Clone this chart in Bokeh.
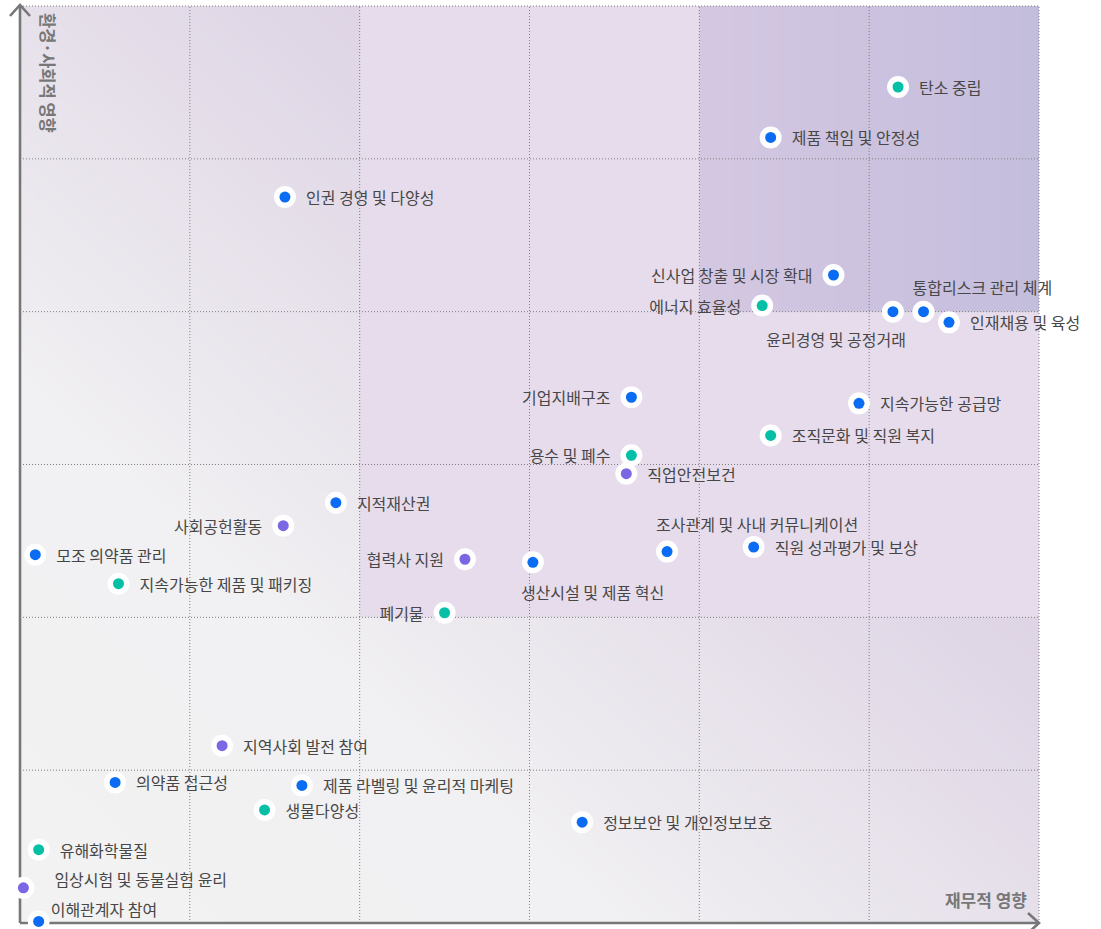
import numpy as np
from bokeh.plotting import figure
from bokeh.models import ColumnDataSource, Range1d
from bokeh.transform import factor_cmap
from bokeh.core.properties import value
from bokeh.embed import file_html
from bokeh.resources import INLINE

# ---------------- DATA ----------------
labels = [
    "탄소 중립", "제품 책임 및 안정성", "인권 경영 및 다양성", "신사업 창출 및 시장 확대",
    "에너지 효율성", "윤리경영 및 공정거래", "통합리스크 관리 체계", "인재채용 및 육성",
    "기업지배구조", "지속가능한 공급망", "조직문화 및 직원 복지", "용수 및 폐수",
    "직업안전보건", "조사관계 및 사내 커뮤니케이션", "직원 성과평가 및 보상", "생산시설 및 제품 혁신",
    "지적재산권", "사회공헌활동", "모조 의약품 관리", "협력사 지원",
    "지속가능한 제품 및 패키징", "폐기물", "지역사회 발전 참여", "의약품 접근성",
    "제품 라벨링 및 윤리적 마케팅", "생물다양성", "정보보안 및 개인정보보호", "유해화학물질",
    "임상시험 및 동물실험 윤리", "이해관계자 참여",
]
financial_impact = [
    5.17, 4.42, 1.56, 4.79,
    4.37, 5.14, 5.32, 5.47,
    3.60, 4.94, 4.42, 3.60,
    3.57, 3.81, 4.32, 3.02,
    1.86, 1.55, 0.09, 2.62,
    0.58, 2.50, 1.19, 0.56,
    1.66, 1.44, 3.31, 0.11,
    0.02, 0.11,
]
social_impact = [
    5.47, 5.14, 4.75, 4.24,
    4.04, 4.00, 4.00, 3.93,
    3.44, 3.40, 3.19, 3.06,
    2.94, 2.43, 2.46, 2.36,
    2.75, 2.60, 2.41, 2.38,
    2.22, 2.03, 1.16, 0.92,
    0.90, 0.74, 0.66, 0.48,
    0.23, 0.01,
]
group = [
    "환경", "경제·거버넌스", "경제·거버넌스", "경제·거버넌스",
    "환경", "경제·거버넌스", "경제·거버넌스", "경제·거버넌스",
    "경제·거버넌스", "경제·거버넌스", "환경", "환경",
    "사회", "경제·거버넌스", "경제·거버넌스", "경제·거버넌스",
    "경제·거버넌스", "사회", "경제·거버넌스", "사회",
    "환경", "환경", "사회", "경제·거버넌스",
    "경제·거버넌스", "환경", "경제·거버넌스", "환경",
    "사회", "경제·거버넌스",
]
groups = ["경제·거버넌스", "환경", "사회"]
grid_ticks = [1, 2, 3, 4, 5, 6]
axis_max = 6
x_title = "재무적 영향"
y_title = "환경·사회적 영향"

# ---------------- STYLE ----------------
group_colors = ["#0a6cf2", "#05bfa7", "#7b66e3"]
TEXT_COLOR = "#474747"
AXIS_COLOR = "#777777"
FONT = "Noto Sans CJK KR"

LEFT_LABELS = {"신사업 창출 및 시장 확대", "에너지 효율성", "기업지배구조", "용수 및 폐수",
               "사회공헌활동", "협력사 지원", "폐기물"}
SPECIAL = {
    "통합리스크 관리 체계": (-11, -25, "left"),
    "윤리경영 및 공정거래": (13, 27, "right"),
    "조사관계 및 사내 커뮤니케이션": (-11, -28, "left"),
    "생산시설 및 제품 혁신": (-12, 30, "left"),
    "임상시험 및 동물실험 윤리": (31, -9, "left"),
    "이해관계자 참여": (12, -12, "left"),
}
dx, dy, align = [], [], []
for lab in labels:
    if lab in SPECIAL:
        a, b, c = SPECIAL[lab]
    elif lab in LEFT_LABELS:
        a, b, c = -21, 0, "right"
    else:
        a, b, c = 21, 0, "left"
    dx.append(a); dy.append(b); align.append(c)

# geometry: axis origin at pixel (19, 922), top/right border at (1038, 5)
W, H = 1100, 929
SX = 1019 / 6.0
SY = 917 / 6.0
x_start = -19.5 / SX
x_end = x_start + W / SX
y_end = 6.0 + 5.5 / SY
y_start = y_end - H / SY

def dxp(px):
    return px / SX

def dyp(px):
    return px / SY

p = figure(width=W, height=H, output_backend="svg", toolbar_location=None,
           x_axis_type=None, y_axis_type=None,
           x_range=Range1d(x_start, x_end), y_range=Range1d(y_start, y_end),
           min_border=0, min_border_left=0, min_border_right=0,
           min_border_top=0, min_border_bottom=0,
           outline_line_color=None, background_fill_color="white",
           border_fill_color="white")
p.toolbar.logo = None

# ---- background gradient (diagonal) ----
ny, nx = 300, 300
u = (np.arange(nx) + 0.5) / nx
v = (np.arange(ny) + 0.5) / ny
U, V = np.meshgrid(u, v)
T = (U + V) / 2.0
st = [0.0, 0.3, 0.667, 1.0]
cols = [(243, 243, 243), (241, 240, 242), (222, 212, 229), (207, 194, 221)]
img = np.empty((ny, nx), dtype=np.uint32)
view = img.view(dtype=np.uint8).reshape((ny, nx, 4))
for k in range(3):
    view[:, :, k] = np.interp(T, st, [c[k] for c in cols]).astype(np.uint8)
view[:, :, 3] = 255
p.image_rgba(image=[img], x=0, y=0, dw=axis_max, dh=axis_max)

# middle zone
p.quad(left=grid_ticks[1], right=axis_max, bottom=grid_ticks[1], top=axis_max,
       fill_color="#e7dcec", line_color=None)

# top-right zone with horizontal gradient
n2 = 120
img2 = np.empty((1, n2), dtype=np.uint32)
v2 = img2.view(dtype=np.uint8).reshape((1, n2, 4))
tt = (np.arange(n2) + 0.5) / n2
for k, (c0, c1) in enumerate(zip((213, 200, 226), (196, 190, 221))):
    v2[0, :, k] = (c0 + (c1 - c0) * tt).astype(np.uint8)
v2[0, :, 3] = 255
p.image_rgba(image=[img2], x=grid_ticks[3], y=grid_ticks[3],
             dw=axis_max - grid_ticks[3], dh=axis_max - grid_ticks[3])

# ---- grid (dotted) ----
xs = [[t, t] for t in grid_ticks] + [[0, axis_max] for t in grid_ticks]
ys = [[0, axis_max] for t in grid_ticks] + [[t, t] for t in grid_ticks]
p.multi_line(xs=xs, ys=ys, line_color="#7f7f7f", line_width=1, line_dash="1 2")

# ---- axes with open arrow heads ----
top = axis_max + dyp(1)
p.line(x=[0, 0], y=[0, top], line_color=AXIS_COLOR, line_width=2.6)
p.line(x=[0, axis_max], y=[0, 0], line_color=AXIS_COLOR, line_width=2.6)
p.line(x=[-dxp(10), 0, dxp(10)], y=[top - dyp(11), top, top - dyp(11)],
       line_color=AXIS_COLOR, line_width=2.6, line_join="miter")
p.line(x=[axis_max - dxp(11), axis_max, axis_max - dxp(11)], y=[dyp(10), 0, -dyp(10)],
       line_color=AXIS_COLOR, line_width=2.6, line_join="miter")

# axis titles
p.text(x=[dxp(28)], y=[axis_max - dyp(7)], text=[y_title], angle=-np.pi / 2,
       text_align="left", text_baseline="middle", text_font=value(FONT),
       text_font_size="16.5px", text_font_style="bold", text_color=AXIS_COLOR)
p.text(x=[axis_max - dxp(12)], y=[dyp(24)], text=[x_title],
       text_align="right", text_baseline="middle", text_font=value(FONT),
       text_font_size="17px", text_font_style="bold", text_color=AXIS_COLOR)

# ---- points ----
src = ColumnDataSource(dict(x=financial_impact, y=social_impact, label=labels, group=group,
                            dx=dx, dy=dy, align=align))
p.scatter("x", "y", source=src, size=22, fill_color="white", line_color=None)
p.scatter("x", "y", source=src, size=11, line_color=None,
          fill_color=factor_cmap("group", group_colors, groups))
p.text("x", "y", text="label", source=src, x_offset="dx", y_offset="dy",
       text_align="align", text_baseline="middle", text_font=value(FONT),
       text_font_size="16px", text_color=TEXT_COLOR)

open("out.html", "w").write(file_html(p, INLINE))
